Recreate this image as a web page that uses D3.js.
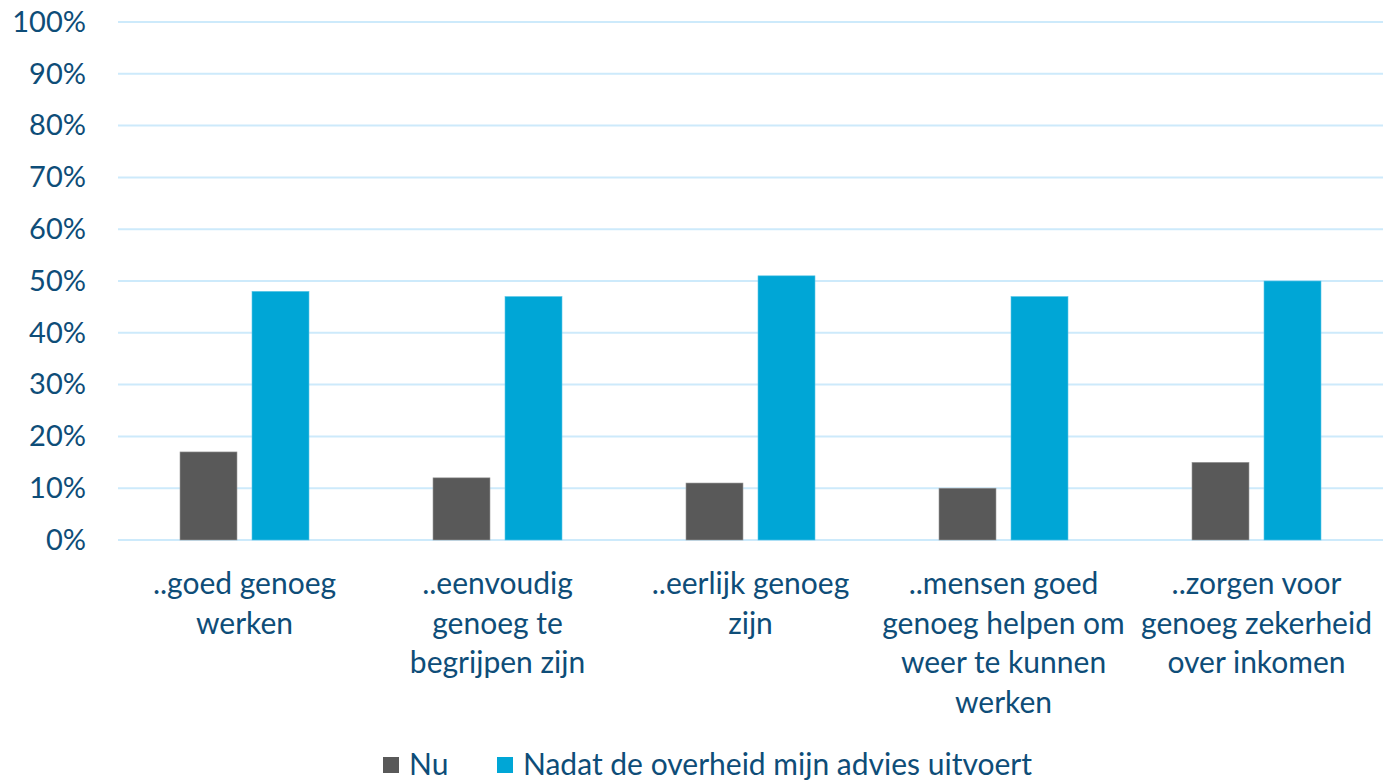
<!DOCTYPE html>
<html>
<head>
<meta charset="utf-8">
<script src="https://cdn.jsdelivr.net/npm/d3@7"></script>
<style>
  html, body { margin: 0; padding: 0; background: #fff; }
  svg { display: block; }
  text { font-family: Lato, "Noto Sans", sans-serif; fill: #0e4d78; }
</style>
</head>
<body>
<svg id="chart" width="1383" height="781"></svg>
<script>
// Category labels, already broken into lines as they are shown under the axis
const categories = [
  ["..goed genoeg", "werken"],
  ["..eenvoudig", "genoeg te", "begrijpen zijn"],
  ["..eerlijk genoeg", "zijn"],
  ["..mensen goed", "genoeg helpen om", "weer te kunnen", "werken"],
  ["..zorgen voor", "genoeg zekerheid", "over inkomen"]
];
const seriesNames = ["Nu", "Nadat de overheid mijn advies uitvoert"];
const nuValues = [17, 12, 11, 10, 15];
const nadatValues = [48, 47, 51, 47, 50];
const yTicks = [0, 10, 20, 30, 40, 50, 60, 70, 80, 90, 100];

const colors = ["#595959", "#00a6d6"];
const series = [nuValues, nadatValues];

const svg = d3.select("#chart");
const margin = { top: 22, right: 0, bottom: 241, left: 118 };
const width = 1383 - margin.left - margin.right;
const height = 781 - margin.top - margin.bottom;

const g = svg.append("g").attr("transform", `translate(${margin.left},${margin.top})`);

const x0 = d3.scaleBand().domain(d3.range(categories.length)).range([0, width]).paddingInner(0).paddingOuter(0);
const y = d3.scaleLinear().domain([0, 100]).range([height, 0]);

const barW = 57, gap = 15;
const x1 = d3.scaleOrdinal().domain([0, 1]).range([-(barW + gap / 2), gap / 2]);

// Horizontal gridlines
g.append("g")
  .selectAll("line")
  .data(yTicks)
  .join("line")
  .attr("x1", 0).attr("x2", width)
  .attr("y1", d => y(d)).attr("y2", d => y(d))
  .attr("stroke", "#cdeafb")
  .attr("stroke-width", 2);

// Y axis labels
const yAxis = d3.axisLeft(y).tickValues(yTicks).tickFormat(d => d + "%").tickSize(0).tickPadding(32);
const ya = g.append("g").call(yAxis);
ya.select(".domain").remove();
ya.selectAll("text").attr("font-size", 29).style("font-family", "Lato, 'Noto Sans', sans-serif").attr("fill", "#0e4d78");

// Bars
series.forEach((vals, si) => {
  g.append("g")
    .selectAll("rect")
    .data(vals)
    .join("rect")
    .attr("x", (d, i) => x0(i) + x0.bandwidth() / 2 + x1(si))
    .attr("y", d => y(d))
    .attr("width", barW)
    .attr("height", d => height - y(d))
    .attr("fill", colors[si])
    .attr("stroke", si === 0 ? "#9a9a9a" : "#5cc6e6")
    .attr("stroke-width", 0.6);
});

// Category labels
const lineH = 39.5;
const cat = g.append("g").selectAll("text")
  .data(categories)
  .join("text")
  .attr("text-anchor", "middle")
  .attr("font-size", 30)
  .attr("transform", (d, i) => `translate(${x0(i) + x0.bandwidth() / 2},${height + 54})`);
cat.selectAll("tspan")
  .data(d => d)
  .join("tspan")
  .attr("x", 0)
  .attr("y", (d, i) => i * lineH)
  .text(d => d);

// Legend
const legend = svg.append("g").attr("transform", "translate(383,757)");
const legendX = [0, 114];
seriesNames.forEach((name, i) => {
  const item = legend.append("g").attr("transform", `translate(${legendX[i]},0)`);
  item.append("rect").attr("width", 16).attr("height", 16).attr("fill", colors[i]);
  item.append("text").attr("x", 26).attr("y", 18).attr("font-size", 30).text(name);
});
</script>
</body>
</html>
